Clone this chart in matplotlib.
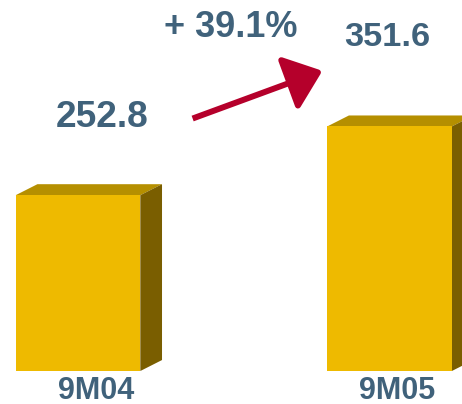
import matplotlib
matplotlib.use("Agg")
import matplotlib.pyplot as plt
from matplotlib.patches import Polygon, FancyArrowPatch

# Data
periods = ["9M04", "9M05"]
values = [252.8, 351.6]
value_labels = ["252.8", "351.6"]
growth_label = "+ 39.1%"

# Style
FRONT = "#EEBA00"
TOP = "#B58F00"
SIDE = "#7A5E00"
TEXT = "#40627B"
ARROW = "#B5002B"
FONT = "Liberation Sans"

fig = plt.figure(figsize=(4.62, 4.04), dpi=100)
ax = fig.add_axes([0, 0, 1, 1])
ax.set_xlim(-0.2504, 1.2327)
ax.set_ylim(-47.4, 533.4)
ax.axis("off")

bar_w = 0.40
depth_x = 0.0697
depth_y = 15.8

xs = list(range(len(values)))
bars = ax.bar(xs, values, width=bar_w, color=FRONT, zorder=3)
for rect in bars:
    x0 = rect.get_x()
    x1 = x0 + rect.get_width()
    h = rect.get_height()
    top = Polygon([(x0, h), (x1, h), (x1 + depth_x, h + depth_y),
                   (x0 + depth_x, h + depth_y)], closed=True,
                  facecolor=TOP, edgecolor="none", zorder=2)
    side = Polygon([(x1, 0), (x1 + depth_x, depth_y),
                    (x1 + depth_x, h + depth_y), (x1, h)], closed=True,
                   facecolor=SIDE, edgecolor="none", zorder=2)
    ax.add_patch(top)
    ax.add_patch(side)

# Category labels under the bars
label_dx = [0.058, 0.025]
for x, name, d in zip(xs, periods, label_dx):
    ax.text(x + d, -40.6, name, ha="center", va="baseline", fontsize=22,
            fontweight="bold", color=TEXT, family=FONT)

# Value labels
ax.text(0.077, 350.8, value_labels[0], ha="center", va="baseline",
        fontsize=26.7, fontweight="bold", color=TEXT, family=FONT)
ax.text(0.994, 467.7, value_labels[1], ha="center", va="baseline",
        fontsize=24.7, fontweight="bold", color=TEXT, family=FONT)

# Growth annotation
ax.text(0.491, 480.6, growth_label, ha="center", va="baseline", fontsize=26,
        fontweight="bold", color=TEXT, family=FONT)

arrow = FancyArrowPatch((0.368, 363.0), (0.793, 433.0),
                        arrowstyle="-|>,head_length=0.75,head_width=0.6",
                        mutation_scale=29, linewidth=4.3, color=ARROW,
                        joinstyle="round", capstyle="butt",
                        shrinkA=0, shrinkB=2, zorder=4)
ax.add_patch(arrow)

fig.savefig("out.png", dpi=100)
